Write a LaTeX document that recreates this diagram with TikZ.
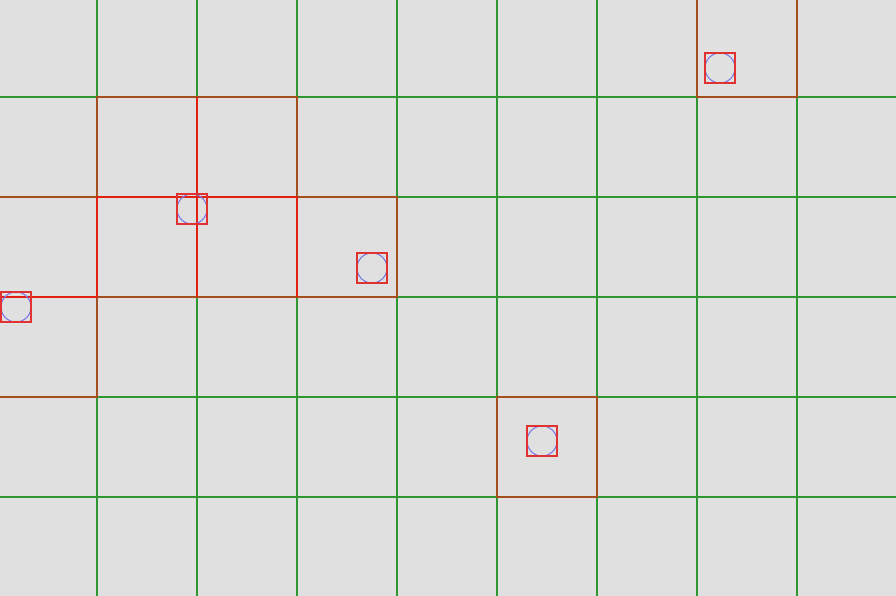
\documentclass[tikz,border=0pt]{standalone}
\usepackage{tikz}
\usepackage{xcolor}
\definecolor{bggray}{RGB}{224,224,224}
\definecolor{gridgreen}{RGB}{48,150,48}
\definecolor{cellbrown}{RGB}{165,78,30}
\definecolor{pairred}{RGB}{228,32,16}
\definecolor{boxred}{RGB}{225,50,50}
\definecolor{objblue}{RGB}{120,120,235}

\tikzset{
  free/.style={gridgreen, line width=0.6pt},
  hit/.style={cellbrown, line width=0.6pt},
  pair/.style={pairred, line width=0.6pt},
  obj/.style={rectangle, draw=boxred, line width=0.35pt, minimum size=0.3cm, inner sep=0pt,
    path picture={\draw[objblue, line width=0.3pt] (path picture bounding box.center) circle (0.15cm);}}
}

\begin{document}
\begin{tikzpicture}
  \fill[bggray] (0,0) rectangle (8.96,-5.96);
  \useasboundingbox (0,0) rectangle (8.96,-5.96);
  % plain grid
  \foreach \x in {0.97,1.97,...,7.97} \draw[free] (\x,0) -- (\x,-5.96);
  \foreach \y in {0.97,1.97,...,4.97} \draw[free] (0,-\y) -- (8.96,-\y);
  % cells holding an object
  \foreach \c/\r in {7/0, 1/1, 2/1, 0/2, 1/2, 2/2, 3/2, 0/3, 5/4}
    \draw[hit] (\c-0.03,-\r+0.03) rectangle (\c+0.97,-\r-0.97);
  % edges shared by two busy cells
  \draw[pair] (1.97,-0.97) -- (1.97,-2.97);
  \draw[pair] (0.97,-1.97) -- (2.97,-1.97);
  \draw[pair] (0.97,-1.97) -- (0.97,-2.97);
  \draw[pair] (2.97,-1.97) -- (2.97,-2.97);
  \draw[pair] (-0.03,-2.97) -- (0.97,-2.97);
  % objects
  \node[obj] (o1) at (7.20,-0.68) {};
  \node[obj] (o2) at (1.92,-2.09) {};
  \node[obj] (o3) at (3.72,-2.68) {};
  \node[obj] (o4) at (0.16,-3.07) {};
  \node[obj] (o5) at (5.42,-4.41) {};
\end{tikzpicture}
\end{document}
